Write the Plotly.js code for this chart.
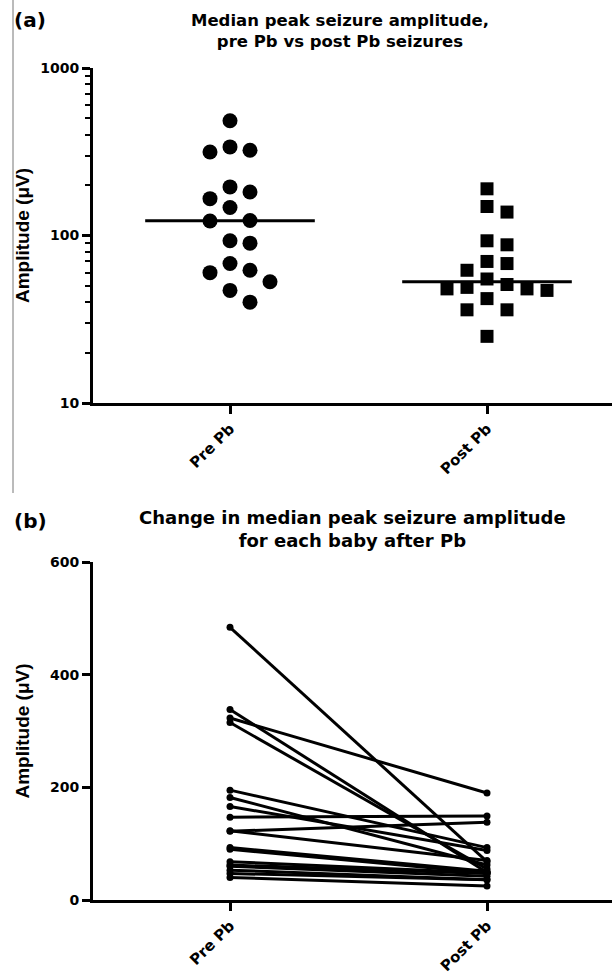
<!DOCTYPE html>
<html><head><meta charset="utf-8">
<script src="https://cdn.plot.ly/plotly-3.0.1.min.js"></script>
<style>html,body{margin:0;padding:0;background:#fff}#chart{width:612px;height:977px}</style>
</head><body><div id="chart"></div>
<script>
// ---- data ----
const groups = ['Pre Pb', 'Post Pb'];
// paired values per baby: preAmp[i] -> postAmp[i]
const preAmp  = [484, 338, 323, 315, 195, 182, 166, 147, 123, 122, 93, 90, 68, 62, 60, 53, 47, 40];
const postAmp = [68,  49,  190, 55,  93,  62,  88,  149, 70,  138, 51, 48, 48, 47, 42, 36, 36, 25];
const topTicks = [10, 100, 1000];
const bottomTicks = [0, 200, 400, 600];

// ---- layout geometry ----
const W = 612, H = 977;
const axisX = 93, preX = 230, postX = 487;
const pxPerUnit = postX - preX;
const xDom = [axisX / W, 1];
const xRange = [-(preX - axisX) / pxPerUnit, (W - preX) / pxPerUnit];
const topDom = [1 - 403 / H, 1 - 68 / H];
const botDom = [1 - 900 / H, 1 - 562 / H];
const topPxPerDecade = H * (topDom[1] - topDom[0]) / 2;

function median(a) {
  const s = a.slice().sort((p, q) => p - q), n = s.length;
  return n % 2 ? s[(n - 1) / 2] : (s[n / 2 - 1] + s[n / 2]) / 2;
}
// simple beeswarm: spread points horizontally so markers do not overlap
function swarm(vals, step, diam) {
  const idx = vals.map((v, i) => i).sort((a, b) => vals[b] - vals[a]);
  const placed = [], off = new Array(vals.length);
  for (const i of idx) {
    const y = (3 - Math.log10(vals[i])) * topPxPerDecade;
    for (let k = 0; k < 60; k++) {
      const m = k === 0 ? 0 : (k % 2 ? Math.ceil(k / 2) : -k / 2);
      const x = m * step;
      if (placed.every(p => Math.hypot(p.x - x, p.y - y) >= diam)) {
        placed.push({x, y}); off[i] = x / pxPerUnit; break;
      }
    }
  }
  return off;
}

const WIDE = 'DejaVu Sans, Verdana, sans-serif';
const NARROW = 'Liberation Sans, Arial, Helvetica, sans-serif';
const preOff = swarm(preAmp, 10, 19);
const postOff = swarm(postAmp, 10, 17);
const preMed = median(preAmp), postMed = median(postAmp);
const halfLen = 0.33;

const traces = [
  {x: preAmp.map((v, i) => 0 + preOff[i]), y: preAmp, type: 'scatter', mode: 'markers',
   marker: {symbol: 'circle', size: 15, color: 'black'}, xaxis: 'x', yaxis: 'y', hoverinfo: 'y'},
  {x: postAmp.map((v, i) => 1 + postOff[i]), y: postAmp, type: 'scatter', mode: 'markers',
   marker: {symbol: 'square', size: 13, color: 'black'}, xaxis: 'x', yaxis: 'y', hoverinfo: 'y'},
  {x: [0 - halfLen, 0 + halfLen], y: [preMed, preMed], type: 'scatter', mode: 'lines',
   line: {color: 'black', width: 3}, xaxis: 'x', yaxis: 'y', hoverinfo: 'skip'},
  {x: [1 - halfLen, 1 + halfLen], y: [postMed, postMed], type: 'scatter', mode: 'lines',
   line: {color: 'black', width: 3}, xaxis: 'x', yaxis: 'y', hoverinfo: 'skip'}
];
preAmp.forEach((v, i) => {
  traces.push({x: [0, 1], y: [preAmp[i], postAmp[i]], type: 'scatter', mode: 'lines+markers',
    line: {color: 'black', width: 3}, marker: {color: 'black', size: 7},
    xaxis: 'x2', yaxis: 'y2', hoverinfo: 'y'});
});

const minorTop = [];
[10, 100].forEach(d => { for (let k = 2; k <= 9; k++) minorTop.push(k * d); });

const xTickFont = {family: WIDE, size: 15, color: 'black', weight: 'bold'};
const yTickFont = {family: WIDE, size: 14, color: 'black', weight: 'bold'};
const yTitleFont = {family: NARROW, size: 19, color: 'black', weight: 'bold'};
const xCommon = {
  range: xRange, domain: xDom, tickmode: 'array', tickvals: [0, 1], ticktext: groups,
  tickangle: -45, ticks: 'outside', ticklen: 8, tickwidth: 3, tickcolor: 'black',
  showline: true, linewidth: 3, linecolor: 'black', showgrid: false, zeroline: false,
  tickfont: xTickFont, fixedrange: true
};
const yCommon = {
  ticks: 'outside', ticklen: 8, tickwidth: 3, tickcolor: 'black',
  showline: true, linewidth: 3, linecolor: 'black', showgrid: false, zeroline: false,
  tickfont: yTickFont, automargin: false, fixedrange: true
};

const layout = {
  width: W, height: H, margin: {l: 0, r: 0, t: 0, b: 0},
  paper_bgcolor: 'white', plot_bgcolor: 'white', showlegend: false,
  font: {family: WIDE, color: 'black'},
  xaxis: Object.assign({}, xCommon, {anchor: 'y'}),
  yaxis: Object.assign({}, yCommon, {
    type: 'log', range: [1, 3], domain: topDom, anchor: 'x',
    tickmode: 'array', tickvals: topTicks, ticktext: topTicks.map(String),
    minor: {tickmode: 'array', tickvals: minorTop, ticks: 'outside', ticklen: 5, tickwidth: 2, tickcolor: 'black', showgrid: false},
    title: {text: 'Amplitude (μV)', font: yTitleFont, standoff: 6}
  }),
  xaxis2: Object.assign({}, xCommon, {anchor: 'y2'}),
  yaxis2: Object.assign({}, yCommon, {
    range: [0, 600], domain: botDom, anchor: 'x2',
    tickmode: 'array', tickvals: bottomTicks, ticktext: bottomTicks.map(String),
    title: {text: 'Amplitude (μV)', font: yTitleFont, standoff: 16}
  }),
  annotations: [
    {text: '(a)', xref: 'paper', yref: 'paper', x: 12 / W, y: 1 - 20 / H, xanchor: 'left', yanchor: 'middle',
     showarrow: false, font: {family: WIDE, size: 20, color: 'black', weight: 'bold'}},
    {text: '(b)', xref: 'paper', yref: 'paper', x: 12 / W, y: 1 - 521 / H, xanchor: 'left', yanchor: 'middle',
     showarrow: false, font: {family: WIDE, size: 20, color: 'black', weight: 'bold'}},
    {text: 'Median peak seizure amplitude,<br>pre Pb vs post Pb seizures', xref: 'paper', yref: 'paper',
     x: 340 / W, y: 1 - 31 / H, xanchor: 'center', yanchor: 'middle', showarrow: false,
     font: {family: WIDE, size: 16.5, color: 'black', weight: 'bold'}},
    {text: 'Change in median peak seizure amplitude<br>for each baby after Pb', xref: 'paper', yref: 'paper',
     x: 352 / W, y: 1 - 529 / H, xanchor: 'center', yanchor: 'middle', showarrow: false,
     font: {family: WIDE, size: 18, color: 'black', weight: 'bold'}}
  ],
  shapes: [
    {type: 'line', xref: 'paper', yref: 'paper', x0: 13 / W, x1: 13 / W, y0: 1 - 493 / H, y1: 1,
     line: {color: '#777', width: 1}}
  ]
};

Plotly.newPlot('chart', traces, layout, {displayModeBar: false, staticPlot: true});
</script>
</body></html>
